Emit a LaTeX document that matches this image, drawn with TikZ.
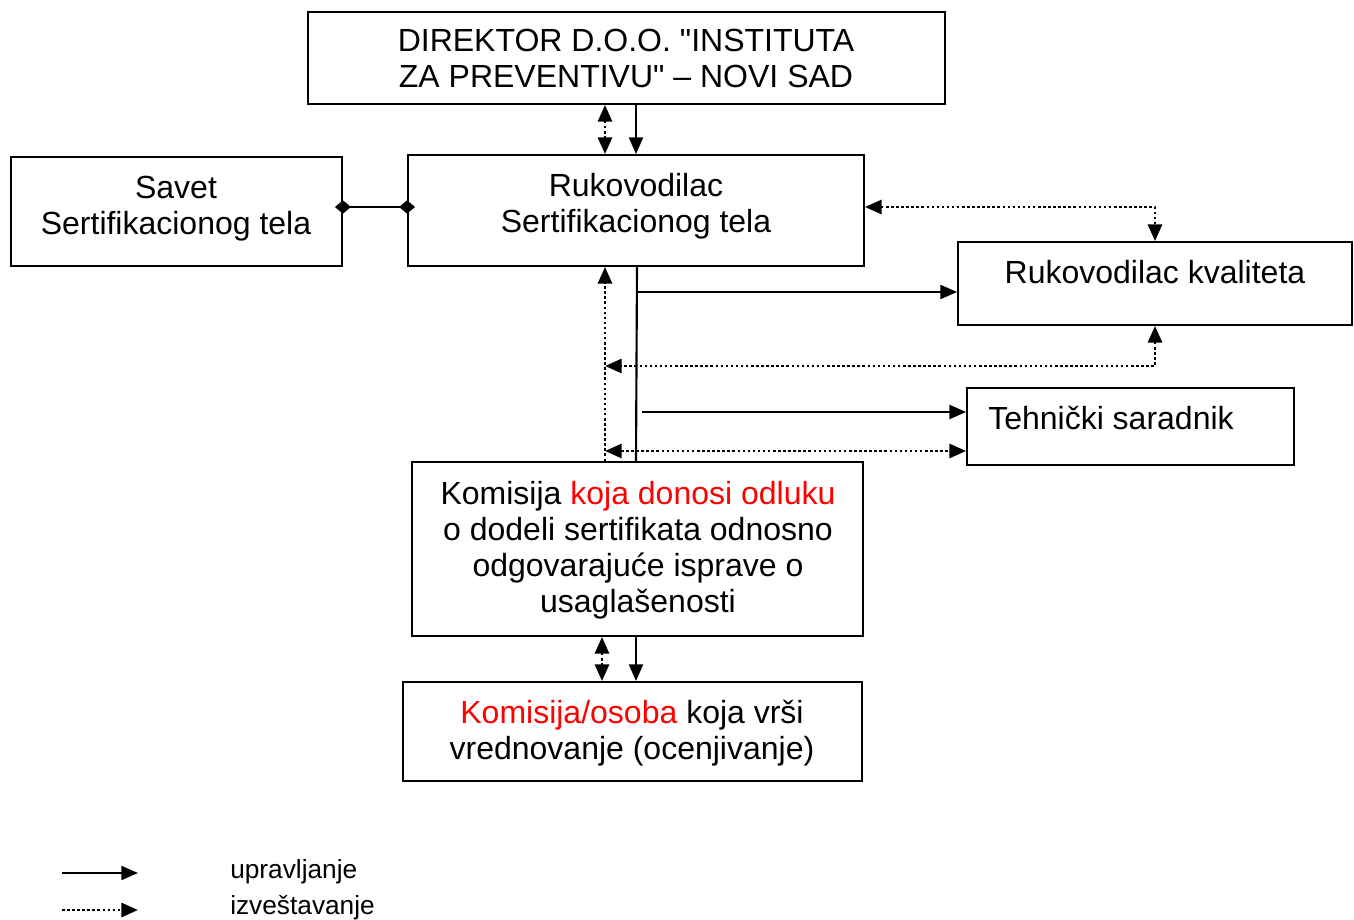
\documentclass[tikz,border=0pt]{standalone}
\usepackage{fontspec}
\setmainfont{Liberation Sans}
\newfontfamily\qfont{Liberation Sans}[Ligatures=TeXOff]
\usetikzlibrary{arrows.meta,calc}
\definecolor{accent}{RGB}{255,0,0}
\newcommand{\sq}{{\qfont\symbol{34}}}
\begin{document}
\begin{tikzpicture}[x=0.75pt,y=-0.75pt,
  >={Triangle[length=12.5pt,width=10.5pt]},
  box/.style={draw,line width=1.4pt,inner sep=0pt,rectangle},
  txt/.style={font=\fontsize{24}{27}\selectfont,align=center,inner sep=0pt},
  ctrl/.style={line width=1.6pt,->},
  rep/.style={line width=2.1pt,dash pattern=on 1.9pt off 1.9pt}]
\useasboundingbox (0,0) rectangle (1354,920);
% boxes
\node[box,minimum width=637*0.75pt,minimum height=92*0.75pt] (dir) at (626.5,58) {};
\node[box,minimum width=331*0.75pt,minimum height=109*0.75pt] (sav) at (176.5,211.5) {};
\node[box,minimum width=456*0.75pt,minimum height=111*0.75pt] (rst) at (636,210.5) {};
\node[box,minimum width=394*0.75pt,minimum height=83*0.75pt] (rk) at (1155,283.5) {};
\node[box,minimum width=327*0.75pt,minimum height=77*0.75pt] (ts) at (1130.5,426.5) {};
\node[box,minimum width=451*0.75pt,minimum height=174*0.75pt] (kom) at (637.5,549) {};
\node[box,minimum width=459*0.75pt,minimum height=99*0.75pt] (ko) at (632.5,731.5) {};
% texts
\node[txt] (tdir) at (626,58.5) {DIREKTOR D.O.O. \sq INSTITUTA\\ZA PREVENTIVU\sq\ -- NOVI SAD};
\node[txt] (tsav) at (176,208.5) {Savet\\Sertifikacionog tela};
\node[txt] (trst) at (636,206.5) {Rukovodilac\\Sertifikacionog tela};
\node[txt] (trk) at (1155,272) {Rukovodilac kvaliteta};
\node[txt,anchor=west] (tts) at (988,418) {Tehnički saradnik};
\node[txt] (tkom) at (638,550) {Komisija \textcolor{accent}{koja donosi odluku}\\o dodeli sertifikata odnosno\\odgovarajuće isprave o\\usaglašenosti};
\node[txt] (tko) at (632,733) {\textcolor{accent}{Komisija/osoba} koja vrši\\vrednovanje (ocenjivanje)};
% coordinates
\coordinate (xs) at (636,0);
\coordinate (xd) at (605,0);
\coordinate (xd2) at (602,0);
\coordinate (ya) at (0,207);
\coordinate (yb) at (0,292);
\coordinate (yd) at (0,412);
\coordinate (ye) at (0,451);
\coordinate (c366) at (605,366);
\coordinate (c412) at (642,412);
\coordinate (c292) at (637,292);
% director -> rst
\draw[ctrl] (dir.south -| xs) -- (rst.north -| xs);
\draw[rep,<->] (dir.south -| xd) -- (rst.north -| xd);
% savet - rst
\draw[line width=1.6pt,{Diamond[length=12pt,width=10pt]}-{Diamond[length=12pt,width=10pt]},shorten <=-6pt,shorten >=-6pt] (sav.east |- ya) -- (rst.west |- ya);
% rst <-> rk
\draw[rep,<->] (rst.east |- ya) -| (rk.north);
% rst vertical to komisija
\draw[line width=1.6pt] (rst.south -| c292) -- (kom.north -| xs);
\draw[ctrl] (c292) -- (rk.west |- yb);
\draw[ctrl] (c412) -- (ts.west |- yd);
% reporting lines
\draw[rep,<->] (rk.south) |- (c366);
\draw[rep,->] (kom.north -| xd) -- (rst.south -| xd);
\draw[rep,<->] (xd |- ye) -- (ts.west |- ye);
% komisija -> ko
\draw[ctrl] (kom.south -| xs) -- (ko.north -| xs);
\draw[rep,<->] (kom.south -| xd2) -- (ko.north -| xd2);
% legend
\coordinate (l1a) at (62,873);
\coordinate (l1b) at (138,873);
\coordinate (l2a) at (62,910);
\coordinate (l2b) at (138,910);
\draw[ctrl] (l1a) -- (l1b);
\draw[rep,->] (l2a) -- (l2b);
\node[font=\fontsize{19.7}{23}\selectfont,anchor=west,inner sep=0pt] (lg1) at (230,872) {upravljanje};
\node[font=\fontsize{19.7}{23}\selectfont,anchor=west,inner sep=0pt] (lg2) at (230,908) {izveštavanje};
\end{tikzpicture}
\end{document}
